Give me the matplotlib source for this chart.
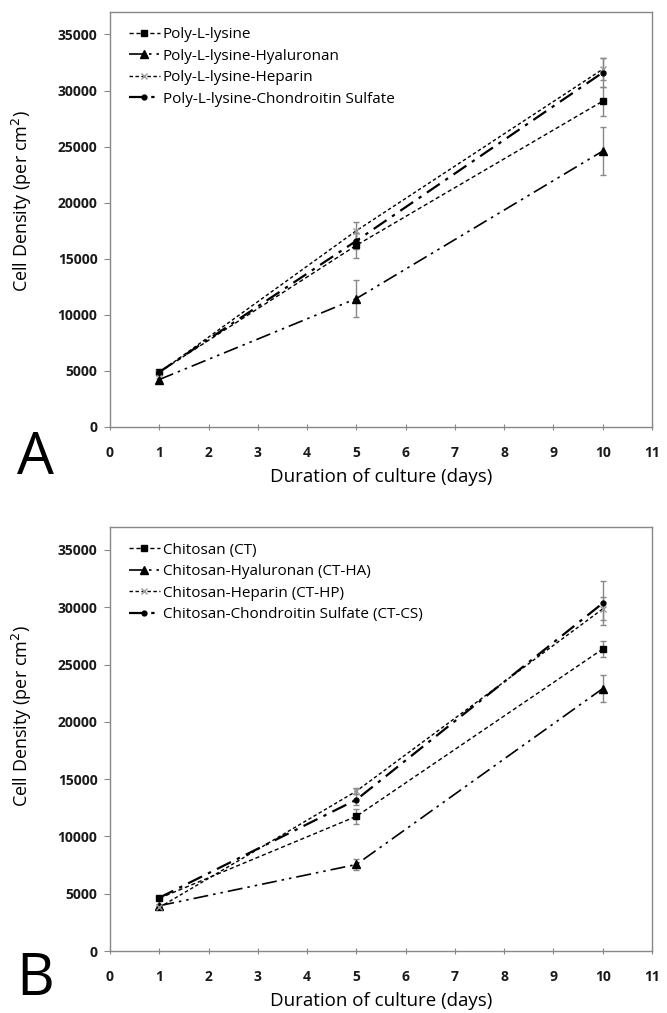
import matplotlib
matplotlib.use("Agg")
import matplotlib.pyplot as plt
import numpy as np

days = [1, 5, 10]

# Panel A
labels_a = ["Poly-L-lysine", "Poly-L-lysine-Hyaluronan", "Poly-L-lysine-Heparin",
            "Poly-L-lysine-Chondroitin Sulfate"]
pll = [4900, 16200, 29050]
pll_err = [150, 1100, 1300]
pll_ha = [4230, 11450, 24600]
pll_ha_err = [150, 1650, 2150]
pll_hp = [4850, 17500, 31900]
pll_hp_err = [150, 800, 1000]
pll_cs = [4900, 16600, 31600]
pll_cs_err = [150, 700, 1300]

# Panel B
labels_b = ["Chitosan (CT)", "Chitosan-Hyaluronan (CT-HA)", "Chitosan-Heparin (CT-HP)",
            "Chitosan-Chondroitin Sulfate (CT-CS)"]
ct = [4600, 11750, 26350]
ct_err = [150, 650, 730]
ct_ha = [3950, 7550, 22900]
ct_ha_err = [150, 450, 1200]
ct_hp = [3800, 13950, 29850]
ct_hp_err = [150, 250, 1000]
ct_cs = [4650, 13200, 30350]
ct_cs_err = [150, 500, 1900]

xticks = list(range(0, 12))
yticks = list(range(0, 35001, 5000))

FONT = "Open Sans"
plt.rcParams['font.family'] = [FONT, 'DejaVu Sans']

styles = [
    dict(linestyle=(0, (3, 2)), marker='s', markersize=4.5, color='black', lw=1.0),
    dict(linestyle=(0, (9, 3, 1.5, 3, 1.5, 3)), marker='^', markersize=6, color='black', lw=1.2),
    dict(linestyle=(0, (2.5, 1.8)), marker='x', markersize=5, color='black', lw=1.0,
         markeredgecolor='#999999'),
    dict(linestyle=(0, (7, 3, 1.5, 3)), marker='o', markersize=3.5, color='black', lw=1.6),
]

fig = plt.figure(figsize=(6.67, 10.13), dpi=100)
axA = fig.add_axes([0.1649, 1 - 427 / 1013, 542 / 667, 415 / 1013])
axB = fig.add_axes([0.1649, 1 - 951 / 1013, 542 / 667, 424 / 1013])

def draw(ax, labels, series, errs, ylab_y, leg_top):
    handles = []
    for lab, s, e, st in zip(labels, series, errs, styles):
        c = ax.errorbar(days, s, yerr=e, ecolor='#888888', elinewidth=1.0, capsize=2.5,
                        capthick=1.0, **st)
        handles.append(c[0])
    ax.set_xlim(0, 11)
    ax.set_ylim(0, 37000)
    ax.set_xticks(xticks)
    ax.set_yticks(yticks)
    ax.tick_params(axis='x', direction='inout', length=5, width=0.8, color='#888888',
                   labelsize=10, pad=11)
    ax.tick_params(axis='y', direction='out', length=4, width=0.8, color='#888888',
                   labelsize=10, pad=5)
    for lab in ax.get_xticklabels() + ax.get_yticklabels():
        lab.set_fontweight('bold')
        lab.set_color('#1a1a1a')
    for sp in ax.spines.values():
        sp.set_color('#888888')
        sp.set_linewidth(1.0)
    ax.set_xlabel("Duration of culture (days)", fontsize=13.5, labelpad=6)
    ax.set_ylabel("Cell Density (per cm$^2$)", fontsize=13)
    ax.yaxis.set_label_coords(-0.14, ylab_y)
    ax.legend(handles, labels, loc='upper left', frameon=False, fontsize=11,
              handlelength=2.0, handletextpad=0.2, labelspacing=0.42,
              borderaxespad=0, borderpad=0, bbox_to_anchor=(0.035, leg_top))
    return ax

draw(axA, labels_a, [pll, pll_ha, pll_hp, pll_cs], [pll_err, pll_ha_err, pll_hp_err, pll_cs_err],
     0.545, 0.963)
draw(axB, labels_b, [ct, ct_ha, ct_hp, ct_cs], [ct_err, ct_ha_err, ct_hp_err, ct_cs_err],
     0.555, 0.963)

fig.text(35 / 667, 1 - 474 / 1013, "A", fontsize=42, ha='center', va='baseline', family=FONT)
fig.text(35 / 667, 1 - 995 / 1013, "B", fontsize=42, ha='center', va='baseline', family=FONT)

fig.savefig("out.png", dpi=100)
